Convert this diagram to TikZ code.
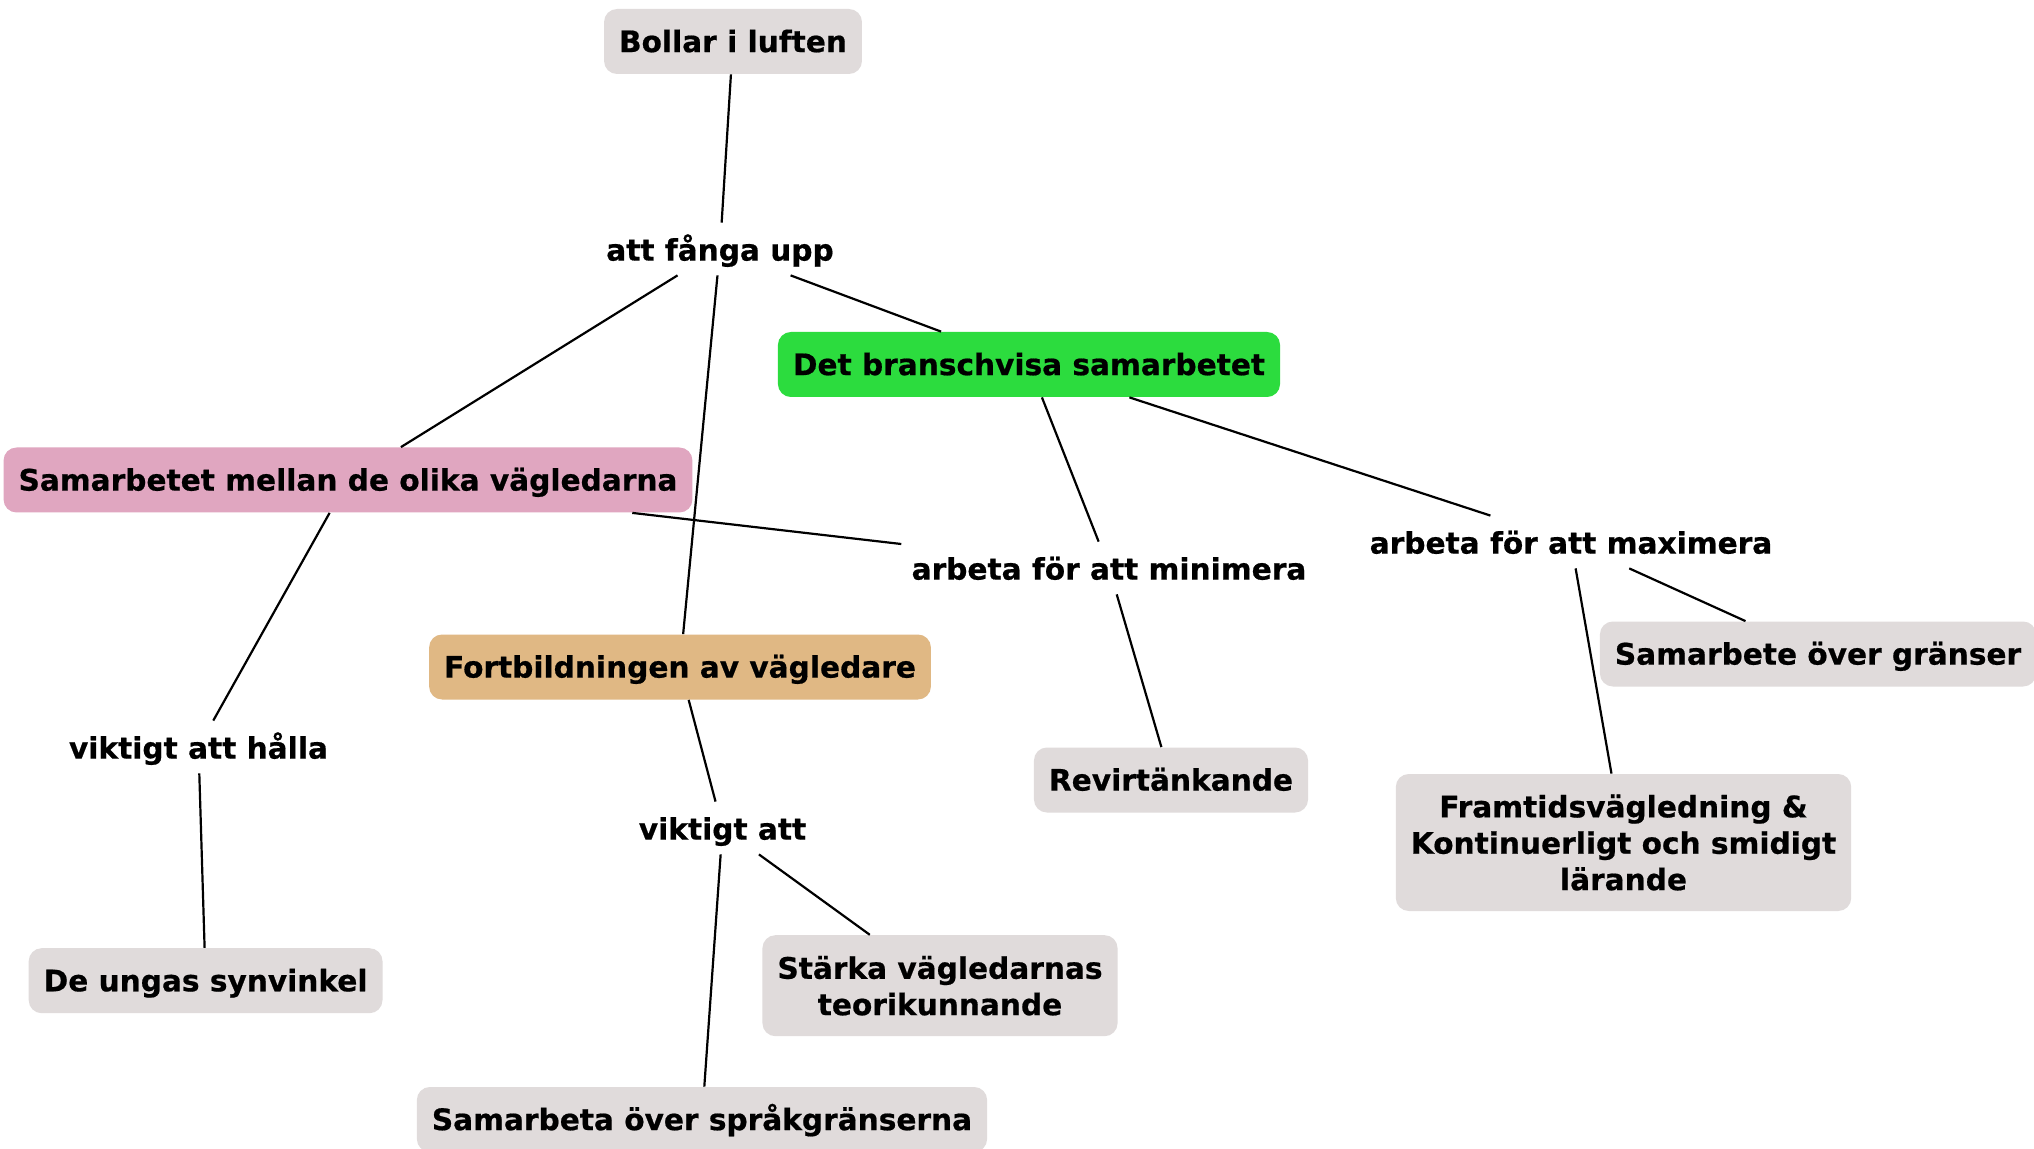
\documentclass[tikz,border=0pt]{standalone}
\usepackage{fontspec}
\setmainfont{DejaVu Sans}[BoldFeatures={FakeBold=0.6}]
\definecolor{cgrey}{HTML}{E0DBDB}
\definecolor{cgreen}{HTML}{2CDC3E}
\definecolor{cpink}{HTML}{E0A6C0}
\definecolor{ctan}{HTML}{E0B884}
\begin{document}
\begin{tikzpicture}[x=0.5pt,y=-0.5pt,
  every node/.style={font=\bfseries\fontsize{14.8}{18.2}\selectfont},
  boxbase/.style={rounded corners=6.5pt, inner xsep=7.5pt, inner ysep=3pt, minimum height=32.5pt},
  box/.style={boxbase, align=center},
  onebox/.style={boxbase, text height=11.5pt, text depth=0.9pt},
  lbl/.style={inner xsep=5pt, inner ysep=0pt, minimum height=26pt, text height=12.3pt, text depth=0.7pt},
  conn/.style={line width=1.1pt, black}]
\clip (0,0) rectangle (2034,1149);
\fill[white] (0,0) rectangle (2034,1149);
\node[onebox,fill=cgrey] (bollar) at (733,41.5) {Bollar i luften};
\node[lbl] (fanga) at (720,249) {att fånga upp};
\node[onebox,fill=cgreen] (bransch) at (1029,364.5) {Det branschvisa samarbetet};
\node[onebox,fill=cpink] (samarb) at (348,480) {Samarbetet mellan de olika vägledarna};
\node[lbl] (mini) at (1109,568) {arbeta för att minimera};
\node[lbl] (maxi) at (1571,542) {arbeta för att maximera};
\node[onebox,fill=ctan] (fortb) at (680,667) {Fortbildningen av vägledare};
\node[lbl] (halla) at (198.5,747) {viktigt att hålla};
\node[onebox,fill=cgrey] (revir) at (1171,780) {Revirtänkande};
\node[onebox,fill=cgrey] (granser) at (1818,654) {Samarbete över gränser};
\node[box,fill=cgrey,minimum height=68.5pt] (framtid) at (1623.5,842.5) {Framtidsvägledning \&\\Kontinuerligt och smidigt\\lärande};
\node[lbl] (vikt) at (722.5,828) {viktigt att};
\node[onebox,fill=cgrey] (unga) at (205.6,980.7) {De ungas synvinkel};
\node[box,fill=cgrey,minimum height=50.5pt] (stark) at (940,985.7) {Stärka vägledarnas\\teorikunnande};
\node[onebox,fill=cgrey] (sprak) at (702,1119.5) {Samarbeta över språkgränserna};
\draw[conn] (bollar) -- (fanga);
\draw[conn] (fanga) -- (samarb);
\draw[conn] (fanga) -- (fortb);
\draw[conn] (fanga) -- (bransch);
\draw[conn] (bransch) -- (mini);
\draw[conn] (bransch) -- (maxi);
\draw[conn] (samarb) -- (mini);
\draw[conn] (samarb) -- (halla);
\draw[conn] (halla) -- (unga);
\draw[conn] (mini) -- (revir);
\draw[conn] (maxi) -- (framtid);
\draw[conn] (maxi) -- (granser);
\draw[conn] (fortb) -- (vikt);
\draw[conn] (vikt) -- (sprak);
\draw[conn] (vikt) -- (stark);
\end{tikzpicture}
\end{document}
